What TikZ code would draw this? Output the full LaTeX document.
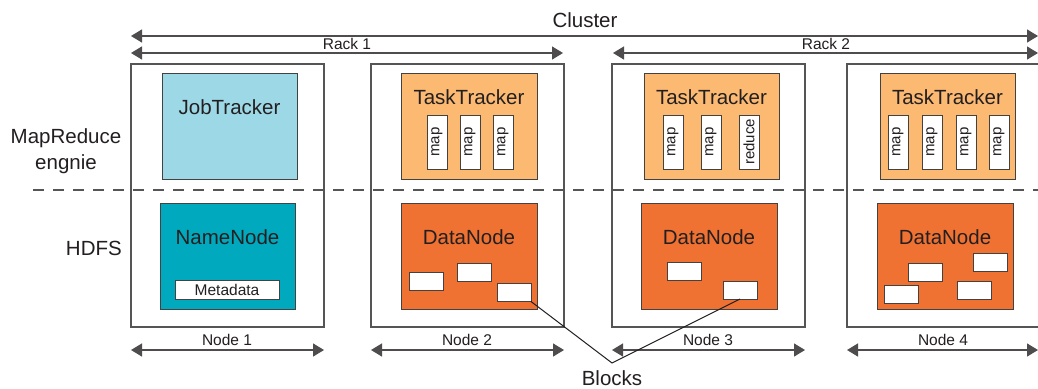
\documentclass[tikz,border=0pt]{standalone}
\usepackage{fontspec}
\setmainfont{Liberation Sans}
\usetikzlibrary{arrows.meta}
\definecolor{jtblue}{RGB}{157,216,230}
\definecolor{nnteal}{RGB}{0,169,190}
\definecolor{ttorange}{RGB}{251,185,114}
\definecolor{dnorange}{RGB}{240,114,51}
\definecolor{txt}{RGB}{35,31,32}
\definecolor{frame}{RGB}{85,85,85}
\tikzset{
  hostbox/.style={draw=frame,line width=1.2pt,inner sep=0pt,outer sep=0pt,fill=white},
  daemon/.style={draw=txt!85,line width=1pt,inner sep=0pt,outer sep=0pt,minimum width=136pt,minimum height=106pt},
  slot/.style={draw=txt!85,fill=white,line width=1pt,inner sep=0pt,outer sep=0pt,minimum width=20pt,minimum height=54pt},
  slotlbl/.style={rotate=90,font=\fontsize{15}{15}\selectfont,text=txt,inner sep=0pt},
  blk/.style={draw=txt!85,fill=white,line width=1pt,inner sep=0pt,outer sep=0pt,minimum width=34pt,minimum height=18pt},
  big/.style={font=\fontsize{20.5}{22}\selectfont,text=txt,inner sep=0pt},
  small/.style={font=\fontsize{15.5}{16}\selectfont,text=txt,inner sep=0pt},
  dimarrow/.style={{Triangle[length=11pt,width=13pt]}-{Triangle[length=11pt,width=13pt]},line width=1.3pt,draw=txt!80,fill=txt},
  callout/.style={draw=txt,line width=1pt},
}
\begin{document}
\begin{tikzpicture}[x=1pt,y=-1pt]
\useasboundingbox (0,0) rectangle (1038,388);
\fill[white] (0,0) rectangle (1038,388);
\begin{scope}
\clip (0,0) rectangle (1038,388);
% host boxes
\node[hostbox,minimum width=193pt,minimum height=263pt] (n1) at (227.5,195.5) {};
\node[hostbox,minimum width=193pt,minimum height=263pt] (n2) at (467.5,195.5) {};
\node[hostbox,minimum width=193pt,minimum height=263pt] (n3) at (708.5,195.5) {};
\node[hostbox,minimum width=193pt,minimum height=263pt] (n4) at (943.5,195.5) {};
% dashed separator
\coordinate (dashL) at (33,190);
\coordinate (dashR) at (1040,190);
\draw[draw=frame,line width=1.2pt,dash pattern=on 11pt off 9pt] (dashL) -- (dashR);
% MapReduce daemons
\node[daemon,fill=jtblue,minimum width=135pt] (jt) at (229.5,126) {};
\node[big] (jtl) at (229.5,107) {JobTracker};
\node[daemon,fill=ttorange] (tt2) at (469,126) {};
\node[big] (tt2l) at (469,97) {TaskTracker};
\node[daemon,fill=ttorange,minimum width=135pt] (tt3) at (711.5,126) {};
\node[big] (tt3l) at (711.5,97) {TaskTracker};
\node[daemon,fill=ttorange,minimum width=135pt] (tt4) at (947.5,126) {};
\node[big] (tt4l) at (947.5,97) {TaskTracker};
% slots
\node[slot] (s21) at (437,142) {}; \node[slotlbl] (s21l) at (s21) {map};
\node[slot] (s22) at (470,142) {}; \node[slotlbl] (s22l) at (s22) {map};
\node[slot] (s23) at (503,142) {}; \node[slotlbl] (s23l) at (s23) {map};
\node[slot] (s31) at (673,142) {}; \node[slotlbl] (s31l) at (s31) {map};
\node[slot] (s32) at (711,142) {}; \node[slotlbl] (s32l) at (s32) {map};
\node[slot] (s33) at (749,142) {}; \node[slotlbl] (s33l) at (s33) {reduce};
\node[slot] (s41) at (898,142) {}; \node[slotlbl] (s41l) at (s41) {map};
\node[slot] (s42) at (932,142) {}; \node[slotlbl] (s42l) at (s42) {map};
\node[slot] (s43) at (966,142) {}; \node[slotlbl] (s43l) at (s43) {map};
\node[slot] (s44) at (999,142) {}; \node[slotlbl] (s44l) at (s44) {map};
% HDFS daemons
\node[daemon,fill=nnteal,minimum width=135pt] (nn) at (227.5,256) {};
\node[big] (nnl) at (227.5,237) {NameNode};
\node[blk,minimum width=104pt,minimum height=19pt] (meta) at (227,289.5) {};
\node[small] (metal) at (227,289.5) {Metadata};
\node[daemon,fill=dnorange] (dn2) at (469,256) {};
\node[big] (dn2l) at (469,237) {DataNode};
\node[daemon,fill=dnorange] (dn3) at (709,256) {};
\node[big] (dn3l) at (709,237) {DataNode};
\node[daemon,fill=dnorange] (dn4) at (945,256) {};
\node[big] (dn4l) at (945,237) {DataNode};
% blocks
\node[blk] (b21) at (426,281) {};
\node[blk] (b22) at (474.5,272) {};
\node[blk] (b23) at (514,292.5) {};
\node[blk] (b31) at (684,271.5) {};
\node[blk] (b32) at (740,290) {};
\node[blk] (b41) at (901.5,294) {};
\node[blk] (b42) at (925,272) {};
\node[blk] (b43) at (974,290) {};
\node[blk] (b44) at (990.5,262) {};
\end{scope}
% left labels
\node[big] (mr1) at (66,138) {MapReduce};
\node[big] (mr2) at (66,164) {engnie};
\node[big,anchor=east] (hdfs) at (122,248) {HDFS};
% dimension arrows
\coordinate (clL) at (131,36); \coordinate (clR) at (1038,36);
\draw[dimarrow] (clL) -- (clR);
\node[big] (cluster) at (585,20) {Cluster};
\coordinate (r1L) at (131,53); \coordinate (r1R) at (563,53);
\draw[dimarrow] (r1L) -- (r1R);
\node[small] (rack1) at (347,44) {Rack 1};
\coordinate (r2L) at (613,53); \coordinate (r2R) at (1038,53);
\draw[dimarrow] (r2L) -- (r2R);
\node[small] (rack2) at (826,44) {Rack 2};
\coordinate (a1L) at (131,350); \coordinate (a1R) at (324,350);
\draw[dimarrow] (a1L) -- (a1R);
\node[small] (node1) at (227,340) {Node 1};
\coordinate (a2L) at (371,350); \coordinate (a2R) at (564,350);
\draw[dimarrow] (a2L) -- (a2R);
\node[small] (node2) at (467,340) {Node 2};
\coordinate (a3L) at (612,350); \coordinate (a3R) at (805,350);
\draw[dimarrow] (a3L) -- (a3R);
\node[small] (node3) at (708,340) {Node 3};
\coordinate (a4L) at (847,350); \coordinate (a4R) at (1038,350);
\draw[dimarrow] (a4L) -- (a4R);
\node[small] (node4) at (943,340) {Node 4};
% callout
\coordinate (apex) at (612,363);
\draw[callout] (b23.south east) -- (apex) -- (b32.south);
\node[big] (blocks) at (612,378) {Blocks};
\end{tikzpicture}
\end{document}
